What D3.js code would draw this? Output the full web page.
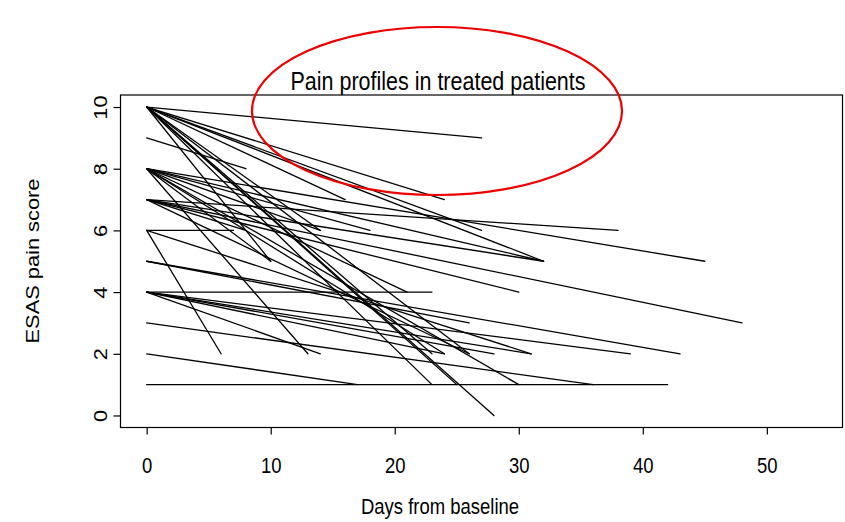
<!DOCTYPE html>
<html>
<head>
<meta charset="utf-8">
<script src="https://cdn.jsdelivr.net/npm/d3@7"></script>
<style>
  body { margin: 0; background: #fff; }
  svg { display: block; font-family: "Liberation Sans", Arial, sans-serif; }
</style>
</head>
<body>
<svg id="chart" width="845" height="522"></svg>
<script>
// Each patient contributes one segment: baseline score at day 0 -> follow-up score at a later day.
const baselineScore = [10, 10, 10, 10, 10, 10, 10, 10, 10, 10, 10, 10,
                       9,
                       8, 8, 8, 8, 8, 8, 8, 8, 8,
                       7, 7, 7, 7, 7, 7,
                       6, 6, 6,
                       5, 5,
                       4, 4, 4, 4, 4, 4,
                       3, 2, 1];
const followDay     = [27, 24, 16, 27, 32, 10, 23, 28, 25, 23, 26, 14,
                       8,
                       45, 32, 18, 14, 10, 13, 30, 24, 21,
                       38, 48, 30, 32, 8, 26,
                       7, 6, 31,
                       26, 43,
                       23, 39, 31, 14, 24, 28,
                       36, 17, 42];
const followScore   = [9, 7, 7, 6, 5, 5, 1, 0, 1, 2, 2, 6,
                       8,
                       5, 5, 6, 6, 5, 2, 1, 2, 4,
                       6, 3, 4, 5, 6, 2,
                       6, 2, 2,
                       3, 2,
                       4, 2, 2, 2, 2, 2,
                       1, 1, 1];

const xTicks = [0, 10, 20, 30, 40, 50];
const yTicks = [0, 2, 4, 6, 8, 10];
const titleText = "Pain profiles in treated patients";
const xLabel = "Days from baseline";
const yLabel = "ESAS pain score";

const svg = d3.select("#chart");
const box = { left: 120.5, right: 842.5, top: 95, bottom: 427.5 };
const stretch = 1.18;   // glyphs are taller than they are wide on this device
const fontFamily = "Liberation Sans, Arial, sans-serif";

const x = d3.scaleLinear().domain([-2.11, 56.1]).range([box.left, box.right]);
const y = d3.scaleLinear().domain([-0.39, 10.39]).range([box.bottom, box.top]);

const segments = baselineScore.map((b, i) => ({
  x0: 0, y0: b, x1: followDay[i], y1: followScore[i]
}));

// profile segments
svg.append("g")
  .selectAll("line")
  .data(segments)
  .join("line")
  .attr("x1", d => x(d.x0))
  .attr("y1", d => y(d.y0))
  .attr("x2", d => x(d.x1))
  .attr("y2", d => y(d.y1))
  .attr("stroke", "#000")
  .attr("stroke-width", 1.3)
  .attr("stroke-linecap", "round");

// plot frame
svg.append("rect")
  .attr("x", box.left).attr("y", box.top)
  .attr("width", box.right - box.left).attr("height", box.bottom - box.top)
  .attr("fill", "none").attr("stroke", "#000").attr("stroke-width", 1.2);

// x axis
const gx = svg.append("g")
  .attr("transform", `translate(0,${box.bottom})`)
  .call(d3.axisBottom(x).tickValues(xTicks).tickSize(7).tickFormat(d3.format("d")));
gx.select(".domain").remove();
gx.selectAll("line").attr("stroke-width", 1.2);
gx.selectAll(".tick text")
  .attr("font-size", 18.5).attr("fill", "#000").attr("font-family", fontFamily)
  .attr("y", null).attr("dy", null)
  .attr("transform", `translate(0,45) scale(1,${stretch})`);

// y axis, labels parallel to the axis
const gy = svg.append("g")
  .attr("transform", `translate(${box.left},0)`)
  .call(d3.axisLeft(y).tickValues(yTicks).tickSize(7).tickFormat(d3.format("d")));
gy.select(".domain").remove();
gy.selectAll("line").attr("stroke-width", 1.2);
gy.selectAll(".tick text")
  .attr("font-size", 18.5).attr("fill", "#000").attr("font-family", fontFamily)
  .attr("x", null).attr("dy", null)
  .attr("text-anchor", "middle")
  .attr("transform", `translate(-14,0) rotate(-90) scale(${stretch},1)`);

// titles
svg.append("text")
  .attr("transform", `translate(438,90) scale(1,${stretch})`)
  .attr("text-anchor", "middle")
  .attr("font-size", 21.5)
  .text(titleText);

svg.append("text")
  .attr("transform", `translate(440,514) scale(1,${stretch})`)
  .attr("text-anchor", "middle")
  .attr("font-size", 18.5)
  .text(xLabel);

svg.append("text")
  .attr("transform", `translate(39,261) rotate(-90) scale(${stretch},1)`)
  .attr("text-anchor", "middle")
  .attr("font-size", 18.5)
  .text(yLabel);

// red highlight ellipse around the title
svg.append("ellipse")
  .attr("cx", 437).attr("cy", 111)
  .attr("rx", 185).attr("ry", 84)
  .attr("fill", "none")
  .attr("stroke", "#ee0000")
  .attr("stroke-width", 2.2);
</script>
</body>
</html>
